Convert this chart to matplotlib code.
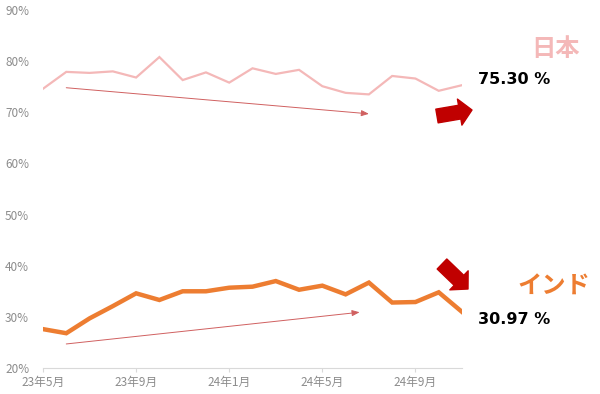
import matplotlib

matplotlib.use("Agg")
import matplotlib.pyplot as plt
import numpy as np

plt.rcParams["font.family"] = ["Noto Sans CJK JP", "DejaVu Sans"]

# monthly share, 2023-05 .. 2024-11
japan = [74.6, 77.9, 77.7, 78.0, 76.8, 80.8, 76.3, 77.8, 75.8, 78.6,
         77.5, 78.3, 75.1, 73.8, 73.5, 77.1, 76.6, 74.2, 75.3]
india = [27.6, 26.8, 29.7, 32.1, 34.6, 33.3, 35.0, 35.0, 35.7, 35.9,
         37.0, 35.3, 36.1, 34.4, 36.7, 32.8, 32.9, 34.8, 30.97]
tick_pos = [0, 4, 8, 12, 16]
tick_labels = ["23年5月", "23年9月", "24年1月", "24年5月", "24年9月"]
y_ticks = [20, 30, 40, 50, 60, 70, 80, 90]

PINK, ORANGE, DARKRED, GREY = "#F4B8B8", "#ED7D31", "#C00000", "#8C8C8C"

fig = plt.figure(figsize=(6.0, 3.94), dpi=100)
ax = fig.add_axes([43 / 600, 1 - 368 / 394, (462 - 43) / 600, (368 - 10) / 394])
x = np.arange(len(japan))
ax.plot(x, japan, color=PINK, lw=1.6, solid_joinstyle="miter")
ax.plot(x, india, color=ORANGE, lw=3.2, solid_joinstyle="miter")

ax.set_xlim(0, len(japan) - 1)
ax.set_ylim(20, 90)
ax.set_yticks(y_ticks)
ax.set_yticklabels([f"{v}%" for v in y_ticks])
ax.set_xticks(tick_pos)
ax.set_xticklabels(tick_labels)
ax.tick_params(axis="y", length=0, pad=10, labelsize=8.5, labelcolor=GREY)
ax.tick_params(axis="x", length=3, color="#D9D9D9", pad=3, labelsize=8.5, labelcolor=GREY)
ax.spines[["top", "right", "left"]].set_visible(False)
ax.spines["bottom"].set_color("#D9D9D9")

# thin trend arrows
trend = dict(arrowstyle="-|>,head_length=0.45,head_width=0.18", color="#D06060", lw=0.7,
             shrinkA=0, shrinkB=0)
ax.annotate("", xy=(14.0, 69.7), xytext=(1.0, 74.8), arrowprops=trend)
ax.annotate("", xy=(13.6, 30.9), xytext=(1.0, 24.7), arrowprops=trend)

# block arrows (figure pixels)
block = dict(arrowstyle="simple,head_length=0.45,head_width=0.95,tail_width=0.5",
             color=DARKRED, shrinkA=0, shrinkB=0, mutation_scale=20)
ax.annotate("", xy=(472, 394 - 110), xytext=(437, 394 - 116), xycoords="figure pixels",
            textcoords="figure pixels", arrowprops=block)
ax.annotate("", xy=(468, 394 - 289), xytext=(442, 394 - 264), xycoords="figure pixels",
            textcoords="figure pixels", arrowprops=block)

fig.text(531 / 600, 1 - 49 / 394, "日本", color=PINK, fontsize=17.5, fontweight="bold",
         va="center", ha="left")
fig.text(478 / 600, 1 - 80 / 394, "75.30 %", color="black", fontsize=11.5, fontweight="bold",
         va="center", ha="left", family=["DejaVu Sans"])
fig.text(517 / 600, 1 - 287 / 394, "インド", color=ORANGE, fontsize=17.5, fontweight="bold",
         va="center", ha="left")
fig.text(478 / 600, 1 - 320 / 394, "30.97 %", color="black", fontsize=11.5, fontweight="bold",
         va="center", ha="left", family=["DejaVu Sans"])

fig.savefig("out.png", dpi=100)
